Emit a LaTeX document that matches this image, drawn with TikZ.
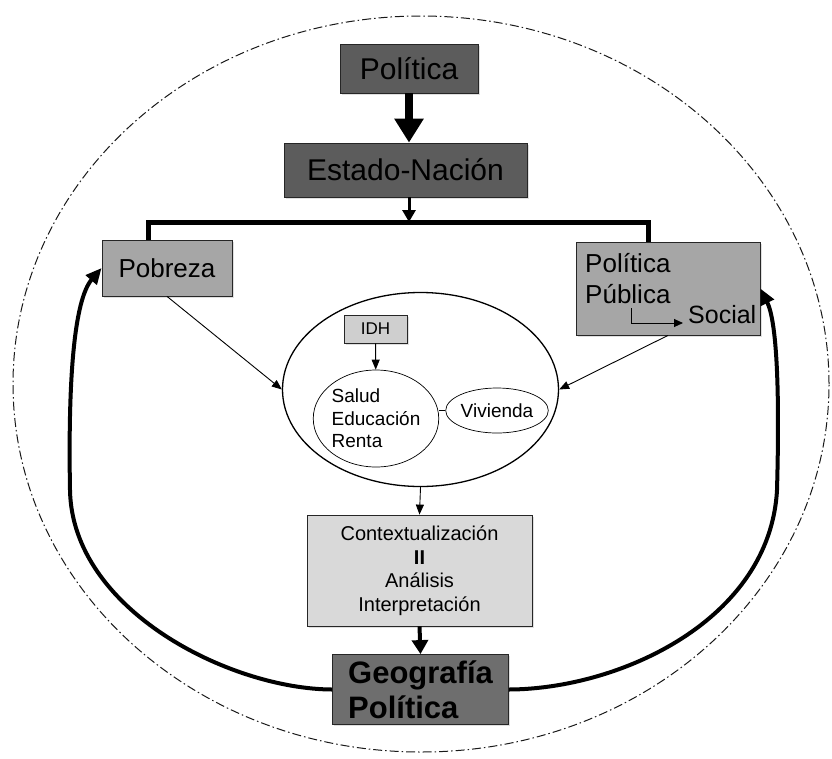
\documentclass[tikz,border=0pt]{standalone}
\usepackage{fontspec}
\setmainfont{Liberation Sans}
\usetikzlibrary{arrows.meta,shapes.geometric,shadows}
\definecolor{grisoscuro}{HTML}{5C5C5C}
\definecolor{grisgeo}{HTML}{6E6E6E}
\definecolor{grismedio}{HTML}{A6A6A6}
\definecolor{grisidh}{HTML}{CFCFCF}
\definecolor{grisclaro}{HTML}{D9D9D9}

\begin{document}
\begin{tikzpicture}[x=1pt, y=-1pt,
	caja/.style={draw=black!85, line width=0.8pt, inner sep=0pt,
		drop shadow={opacity=0.25, shadow xshift=1.5pt, shadow yshift=-1.5pt}},
	fina/.style={line width=0.9pt, -{Triangle[width=8pt,length=10pt]}},
	gruesa/.style={line width=4pt, -{Triangle[width=14pt,length=16pt]}}]
	\useasboundingbox (0,0) rectangle (832,758);
	\draw[dash pattern=on 9pt off 3pt on 1.5pt off 3pt, line width=1pt, black!90] (421,384) ellipse [x radius=408pt, y radius=368pt];

	% cajas de arriba
	\node[caja, fill=grisoscuro, minimum width=138pt, minimum height=49pt, font=\fontsize{30}{36}\selectfont] (pol) at (409,68.5) {Política};
	\node[caja, fill=grisoscuro, minimum width=243pt, minimum height=54pt, font=\fontsize{30}{36}\selectfont] (estado) at (405.5,170) {Estado-Nación};
	\draw[line width=8pt, -{Triangle[width=28pt,length=24pt]}] (pol.south) -- (pol |- estado.north);

	\coordinate (barL) at (148,222);
	\coordinate (barR) at (648,222);
	\node[caja, fill=grismedio, minimum width=130pt, minimum height=56pt, font=\fontsize{26}{31}\selectfont] (pobreza) at (167,268) {Pobreza};
	\node[caja, fill=grismedio, minimum width=184pt, minimum height=93pt] (polpub) at (668,288.5) {};
	\node[anchor=base west, inner sep=0pt, font=\fontsize{26}{31}\selectfont] (polA) at (585,272) {Política};
	\node[anchor=base west, inner sep=0pt, font=\fontsize{26}{31}\selectfont] (polB) at (585,303) {Pública};
	\node[anchor=base west, inner sep=0pt, font=\fontsize{25}{30}\selectfont] (social) at (688,323) {Social};
	\coordinate (codo) at (631,308);
	\draw[line width=0.9pt, -{Triangle[width=8pt,length=9pt]}] (codo) |- ([xshift=-5pt]social.west |- 0,323);

	\draw[line width=5pt] (pobreza.north -| barL) -- (barL) -- (barR) -- (polpub.north -| barR);
	\draw[line width=3pt, -{Triangle[width=13pt,length=12pt]}] (estado.south -| pol) -- (pol |- barL);

	% IDH
	\node[draw, ellipse, line width=1.3pt, minimum width=276pt, minimum height=194pt, inner sep=0pt] (mundo) at (420.5,389.5) {};
	\node[caja, fill=grisidh, line width=0.6pt, minimum width=63pt, minimum height=28pt, font=\fontsize{17}{20}\selectfont] (idh) at (375.5,329) {IDH};
	\node[draw, ellipse, line width=0.7pt, minimum width=112pt, minimum height=97pt, inner sep=0pt, align=left, font=\fontsize{19}{22.5}\selectfont] (salud) at (376,418.5) {Salud\\Educación\\Renta};
	\node[draw, ellipse, line width=0.7pt, minimum width=92pt, minimum height=45pt, inner sep=0pt, font=\fontsize{19}{22}\selectfont] (vivienda) at (497,410.5) {Vivienda};
	\draw[fina] (idh) -- (salud);
	\draw[line width=0.7pt] (vivienda.west) -- (vivienda.west -| salud.east);
	\draw[fina] (pobreza.south) -- (mundo.west);
	\draw[fina] (polpub.south) -- (mundo.east);

	% abajo
	\node[caja, fill=grisclaro, minimum width=225pt, minimum height=111pt, align=center, font=\fontsize{20}{23.5}\selectfont] (contexto) at (419.5,570.5) {Contextualización\\\textbf{II}\\Análisis\\Interpretación};
	\node[caja, fill=grisgeo, minimum width=176pt, minimum height=70pt, align=left, font=\fontsize{31}{35}\selectfont\bfseries] (geo) at (420.5,689.5) {Geografía\\Política};
	\draw[fina] (mundo.south) -- (contexto.north);
	\draw[line width=4pt, -{Triangle[width=16pt,length=14pt]}] (contexto.south) -- (geo.north);

	\draw[gruesa] (geo.west) .. controls (230,689) and (72,610) .. (70,490) .. controls (68,380) and (74,300) .. (pobreza.west);
	\draw[gruesa] (geo.east) .. controls (620,689) and (770,620) .. (777,490) .. controls (780,380) and (776,320) .. (polpub.east);
\end{tikzpicture}
\end{document}
